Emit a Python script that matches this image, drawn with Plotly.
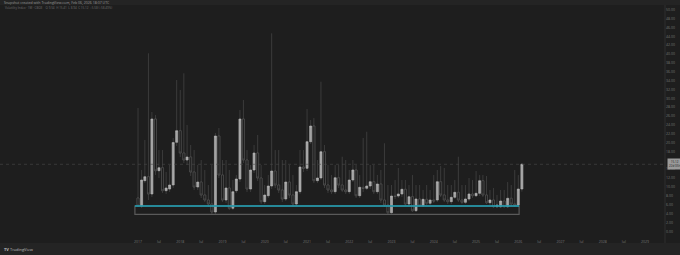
import pandas as pd
import plotly.graph_objects as go

# ---- data (monthly OHLC) ----
months = pd.date_range("2017-01-01", periods=110, freq="MS")

opens = [7.51,5.71,11.42,12.32,8.42,25.34,13.67,14.35,9.16,9.54,
         10.45,20.08,22.70,17.67,16.09,16.76,13.38,10.00,11.12,8.19,
         7.06,6.16,4.35,21.50,12.70,7.06,9.77,5.19,9.16,11.80,
         25.34,16.09,9.54,13.83,17.67,12.03,6.68,8.03,10.22,13.61,
         10.45,9.32,7.29,11.12,8.19,6.16,8.94,14.51,14.21,20.22,
         23.76,11.42,12.03,17.96,10.45,9.32,8.94,12.09,10.45,9.32,
         8.94,11.57,13.83,8.03,9.93,9.70,10.22,11.19,8.94,10.67,
         7.06,5.93,4.20,7.96,7.96,8.42,9.48,6.16,7.81,4.65,
         7.29,5.78,7.22,6.32,7.06,7.06,11.19,8.19,7.06,6.68,
         7.67,8.80,7.06,6.54,7.29,8.42,8.03,8.57,11.42,8.19,
         6.45,7.06,5.55,5.55,6.84,5.55,7.45,6.16,5.93,9.54]
highs = [27.82,13.83,20.60,40.16,26.92,26.24,18.34,18.34,13.38,14.96,
         21.05,34.14,31.88,35.65,23.98,19.47,18.34,14.96,16.09,13.83,
         10.45,14.96,22.18,23.31,16.09,16.09,13.83,11.57,12.70,27.37,
         29.63,18.34,14.96,19.47,21.73,14.96,10.45,12.70,44.67,18.34,
         18.34,16.09,16.09,14.96,12.70,10.45,18.34,18.34,27.59,25.11,
         25.56,16.09,33.75,19.47,14.96,12.70,14.96,14.96,16.83,16.09,
         13.83,16.09,14.96,12.70,21.05,22.47,14.96,14.96,12.70,13.83,
         19.86,10.45,10.45,11.57,14.28,11.57,11.57,10.45,12.70,10.45,
         10.45,9.32,10.45,9.32,12.70,13.83,14.73,14.28,10.45,10.45,
         11.57,16.83,10.45,10.45,12.03,11.57,13.61,12.70,12.70,12.48,
         9.32,9.77,8.19,9.32,9.32,11.12,10.45,13.83,12.70,15.41]
lows = [5.48,5.26,10.90,7.06,7.74,12.70,12.03,8.64,8.42,8.87,
        9.77,19.25,16.76,15.41,14.96,12.48,9.32,9.32,7.51,6.61,
        5.48,3.90,3.79,12.03,6.61,6.39,4.81,4.81,8.64,11.12,
        15.41,8.87,8.87,13.15,11.35,6.16,6.16,7.51,9.54,9.77,
        8.64,6.61,6.84,7.51,5.48,5.71,8.42,13.38,13.61,19.70,
        10.90,10.90,11.57,9.77,8.64,8.42,8.42,9.77,8.87,8.42,
        8.42,11.12,7.51,7.51,8.87,9.32,9.54,8.42,8.42,6.39,
        5.48,3.79,3.79,7.29,7.51,7.74,5.71,5.71,4.35,4.35,
        5.48,5.48,5.93,5.93,6.39,6.61,7.74,6.61,6.16,6.16,
        7.29,6.61,6.16,6.16,6.84,7.51,7.74,7.96,7.74,6.16,
        5.93,5.26,5.26,5.26,5.26,5.26,5.71,5.48,5.48,8.94]
closes = [5.71,11.57,12.32,8.42,25.34,13.67,14.35,9.16,9.77,10.45,
          20.04,22.70,17.67,16.09,16.76,13.38,10.00,11.12,8.19,7.06,
          6.16,4.35,21.50,12.70,7.06,9.77,5.19,8.94,11.80,25.34,
          16.09,9.54,13.83,17.67,12.03,6.68,8.19,10.22,13.61,10.45,
          9.32,7.29,11.12,8.19,6.16,8.94,14.51,14.21,20.22,23.76,
          11.42,12.03,17.96,10.45,9.32,8.94,12.09,10.45,9.32,8.94,
          11.57,13.83,8.03,9.93,9.70,10.22,11.19,8.94,10.67,7.06,
          5.93,4.20,7.96,7.85,8.42,9.48,6.16,7.81,4.65,7.29,
          5.78,7.22,6.32,7.06,6.84,11.19,8.19,7.06,6.68,7.67,
          8.80,7.06,6.54,7.29,8.42,8.03,8.57,11.42,8.19,6.45,
          7.06,5.55,5.93,6.84,5.55,7.45,6.16,5.93,9.54,15.12]

# support box drawn on the chart
box_start, box_end = "2016-12-05", "2026-01-08"
box_top, box_bottom = 5.71, 3.84

y_ticks = [v for v in range(0, 52, 2) if v != 16]
x_tick_dates = [f"{y}-{m:02d}-01" for y in range(2017, 2030) for m in (1, 7)]
x_tick_text = [str(d[:4]) if d[5:7] == "01" else "Jul" for d in x_tick_dates]

last_price = closes[-1]

BG = "#1e1e1e"
BAR = "#242424"

body_hi = [max(o, c) for o, c in zip(opens, closes)]
body_lo = [min(o, c) for o, c in zip(opens, closes)]

fig = go.Figure()
# wicks
fig.add_trace(go.Candlestick(
    x=months, open=opens, high=highs, low=lows, close=closes,
    increasing=dict(line=dict(color="#484848", width=0.7), fillcolor="rgba(0,0,0,0)"),
    decreasing=dict(line=dict(color="#484848", width=0.7), fillcolor="rgba(0,0,0,0)"),
    whiskerwidth=0, showlegend=False, hoverinfo="skip"))
# bodies
fig.add_trace(go.Candlestick(
    x=months, open=opens, high=body_hi, low=body_lo, close=closes,
    increasing=dict(line=dict(color="#bdbdbd", width=0.5), fillcolor="#a3a3a3"),
    decreasing=dict(line=dict(color="#555555", width=0.6), fillcolor=BG),
    whiskerwidth=0, showlegend=False))

shapes = [
    # top bar
    dict(type="rect", xref="paper", yref="paper", x0=0, x1=1.03, y0=1.0, y1=1.03,
         fillcolor=BAR, line=dict(width=0), layer="below"),
    # bottom bar
    dict(type="rect", xref="paper", yref="paper", x0=0, x1=1.03, y0=-0.08, y1=-0.0215,
         fillcolor=BAR, line=dict(width=0), layer="above"),
    # box
    dict(type="rect", xref="x", yref="y", x0=box_start, x1=box_end, y0=box_bottom, y1=box_top,
         line=dict(color="#5a5a5a", width=1.2), fillcolor="rgba(0,0,0,0)"),
    dict(type="line", xref="x", yref="y", x0=box_start, x1=box_end, y0=box_top, y1=box_top,
         line=dict(color="#1fa3b8", width=1.3)),
    # last price line
    dict(type="line", xref="paper", yref="y", x0=0, x1=1, y0=last_price, y1=last_price,
         line=dict(color="#4a4a4a", width=0.6, dash="dot")),
    # price scale separator
    dict(type="line", xref="paper", yref="paper", x0=1, x1=1, y0=-0.0215, y1=1.0,
         line=dict(color="#2e2e2e", width=1)),
]

annotations = [
    dict(xref="paper", yref="paper", x=0.003, y=1.0107, xanchor="left", yanchor="middle",
         text="Snapshot created with TradingView.com, Feb 06, 2026 18:07 UTC",
         showarrow=False, font=dict(size=3.5, color="#9a9a9a")),
    dict(xref="paper", yref="paper", x=0.005, y=0.987, xanchor="left", yanchor="middle",
         text="Volatility Index · 1M · CBOE    O 9.54  H 15.41  L 8.94  C 15.12  +5.58 (+58.49%)",
         showarrow=False, font=dict(size=3, color="#6e6e6e")),
    dict(xref="paper", yref="y", x=1.003, y=last_price, xanchor="left", yanchor="middle",
         text=f"{last_price:.2f}<br>22d 05h", showarrow=False, align="center",
         bgcolor="#9a9a9a", borderpad=1, font=dict(size=3, color="#1a1a1a")),
    dict(xref="paper", yref="paper", x=0.003, y=-0.05, xanchor="left", yanchor="middle",
         text="<b>TV</b> TradingView", showarrow=False, font=dict(size=4, color="#bfbfbf")),
]

fig.update_layout(
    width=680, height=255,
    margin=dict(l=0, r=15, t=5, b=17),
    paper_bgcolor=BG, plot_bgcolor=BG,
    boxgap=0.12,
    shapes=shapes, annotations=annotations,
    xaxis=dict(type="date", range=["2013-09-26", "2029-06-22"],
               rangeslider=dict(visible=False),
               tickvals=x_tick_dates, ticktext=x_tick_text,
               tickfont=dict(size=3.5, color="#777777"),
               showgrid=False, zeroline=False, showline=False, ticks=""),
    yaxis=dict(side="right", range=[-1.51, 51.06],
               tickvals=y_ticks, ticktext=[f"{v:.2f}" for v in y_ticks],
               tickfont=dict(size=3.5, color="#777777"),
               showgrid=False, zeroline=False, showline=False, ticks=""),
)

fig.write_html("out.html")
